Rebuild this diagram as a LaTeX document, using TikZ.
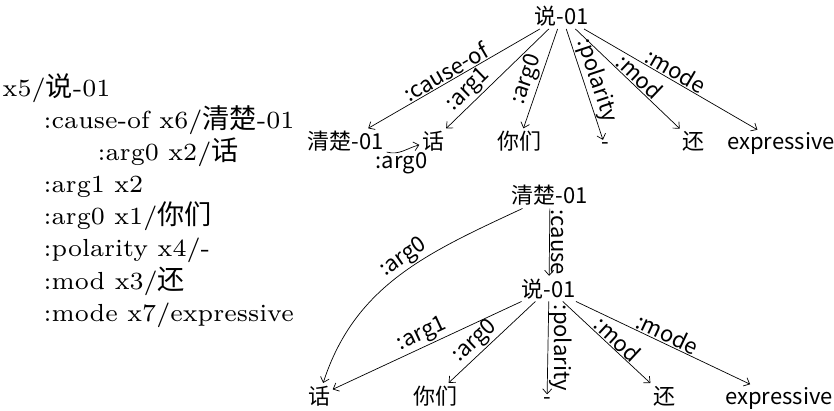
\documentclass[tikz,border=0pt]{standalone}
\usepackage{fontspec}
\newfontfamily\cjk{Noto Sans CJK SC}
\newcommand{\zh}[1]{{\cjk\fontsize{7.7}{9}\selectfont #1}}
\usetikzlibrary{arrows.meta}
\begin{document}
\begin{tikzpicture}[x=1pt,y=1pt,
  amr/.style={anchor=base west, inner sep=0pt, scale=3.53, font=\fontsize{7}{8}\selectfont},
  gn/.style={anchor=base, inner sep=2.5pt, font=\cjk\fontsize{22}{26}\selectfont},
  lab/.style={inner sep=1pt, font=\cjk\fontsize{22}{26}\selectfont},
  edge/.style={draw, line width=0.7pt, -{Straight Barb[length=5pt,width=9pt]}}]
\useasboundingbox (0,0) rectangle (834,-411);
% AMR text
\node[amr] (t1) at (2,-97) {x5/\zh{说}-01};
\node[amr] (t2) at (43,-129) {:cause-of x6/\zh{清楚}-01};
\node[amr] (t3) at (97,-161) {:arg0 x2/\zh{话}};
\node[amr] (t4) at (43,-193) {:arg1 x2};
\node[amr] (t5) at (43,-225) {:arg0 x1/\zh{你们}};
\node[amr] (t6) at (43,-257) {:polarity x4/-};
\node[amr] (t7) at (43,-289) {:mod x3/\zh{还}};
\node[amr] (t8) at (43,-321) {:mode x7/expressive};
% top graph
\node[gn] (s1) at (562,-24.5) {说-01};
\node[gn] (q1) at (346,-149.5) {清楚-01};
\node[gn] (h1) at (433,-149.5) {话};
\node[gn] (n1) at (519,-149.5) {你们};
\node[gn] (p1) at (605,-149.5) {-};
\node[gn] (a1) at (693,-149.5) {还};
\node[gn] (e1) at (781,-149.5) {expressive};
\draw[edge] (s1) -- node[lab,sloped,above,pos=.52] {:cause-of} (q1);
\draw[edge] (s1) -- node[lab,sloped,above,pos=.7] {:arg1} (h1);
\draw[edge] (s1) -- node[lab,sloped,above,pos=.55] {:arg0} (n1);
\draw[edge] (s1) -- node[lab,sloped,above,pos=.5] {:polarity} (p1);
\draw[edge] (s1) -- node[lab,sloped,above,pos=.55] {:mod} (a1);
\draw[edge] (s1) -- node[lab,sloped,above,pos=.5] {:mode} (e1);
\draw[edge] (q1) to[out=-15,in=195] node[lab,below,pos=.45] {:arg0} (h1);
% bottom graph
\node[gn] (q2) at (550,-204) {清楚-01};
\node[gn] (s2) at (549,-297) {说-01};
\node[gn] (h2) at (319,-404) {话};
\node[gn] (n2) at (435,-404) {你们};
\node[gn] (p2) at (547,-404) {-};
\node[gn] (a2) at (664,-404) {还};
\node[gn] (e2) at (779,-404) {expressive};
\draw[edge] (q2) -- node[lab,rotate=-90,anchor=south,pos=.5] {:cause} (s2);
\draw[edge] (q2) to[out=205,in=72] node[lab,sloped,above,pos=.45] {:arg0} (h2);
\draw[edge] (s2) -- node[lab,sloped,above,pos=.5] {:arg1} (h2);
\draw[edge] (s2) -- node[lab,sloped,above,pos=.6] {:arg0} (n2);
\draw[edge] (s2) -- node[lab,rotate=-90,anchor=south,pos=.5] {:polarity} (p2);
\draw[edge] (s2) -- node[lab,sloped,above,pos=.55] {:mod} (a2);
\draw[edge] (s2) -- node[lab,sloped,above,pos=.5] {:mode} (e2);
\end{tikzpicture}
\end{document}
